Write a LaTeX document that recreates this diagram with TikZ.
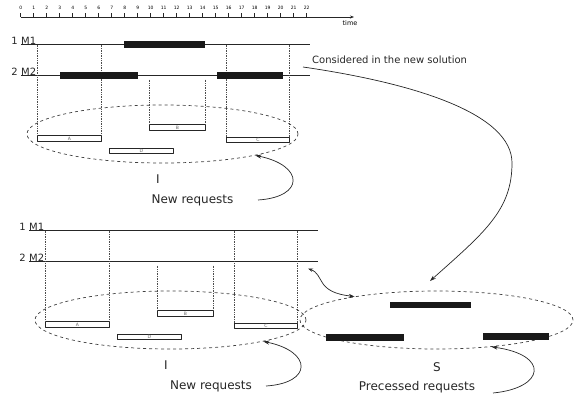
\documentclass[tikz,border=0pt]{standalone}
\usepackage{fontspec}
\setmainfont{DejaVu Sans}
\usetikzlibrary{positioning,arrows.meta,calc,shapes.geometric}

\tikzset{
  machine/.style={draw=black!85,line width=0.9pt},
  guide/.style={draw=black!70,densely dotted,line width=0.7pt},
  job/.style={fill=black!90,inner sep=0pt,minimum height=7pt},
  request/.style={draw=black!85,fill=white,line width=0.7pt,inner sep=0pt,
    minimum height=5.5pt,minimum width=64pt,font=\fontsize{4.5}{4.5}\selectfont,text=black!60},
  pool/.style={ellipse,draw=black!75,dashed,line width=0.7pt,inner sep=0pt},
  curved/.style={black!85,line width=0.7pt,-{Stealth[length=6pt,width=4pt]}},
  mlabel/.style={font=\fontsize{10}{10}\selectfont,inner sep=0pt,text=black!85},
  big/.style={font=\fontsize{12}{12}\selectfont,inner sep=0pt,text=black!85},
}

\begin{document}
\begin{tikzpicture}[x=1pt,y=-1pt,line join=round]
  \useasboundingbox (0,0) rectangle (576,397);

  % time axis
  \coordinate (t0) at (20.7,17);
  \coordinate (tend) at (354,17);
  \draw[black!85,line width=0.8pt,-{Stealth[length=4pt,width=3pt]}] (t0) -- (tend);
  \foreach \i in {0,...,22}{
    \draw[black!85,line width=0.5pt] (20.7+13*\i,17) -- (20.7+13*\i,12.5);
    \node[font=\fontsize{4.5}{4.5}\selectfont,inner sep=0pt] (tick\i) at (20.7+13*\i,8) {\i};
  }
  \node[font=\fontsize{6.5}{6.5}\selectfont,inner sep=0pt] (time) at (350,23) {time};

  % two machines with the new requests under them (second copy shifted)
  \foreach \sx/\sy/\k/\nx in {0/0/t/192.5,8/186/b/203}{
  \begin{scope}[shift={(\sx,\sy)}]
    \node[mlabel,anchor=south west] (m1\k) at (21,44.5) {M1};
    \node[mlabel,anchor=south east] (n1\k) at (18,44.5) {1};
    \node[mlabel,anchor=south west] (m2\k) at (21,75.7) {M2};
    \node[mlabel,anchor=south east] (n2\k) at (18,75.7) {2};
    \coordinate (m1e\k) at (310,44.5);
    \coordinate (m2e\k) at (310,75.7);
    \draw[machine] (m1\k.south west) -- (m1e\k);
    \draw[machine] (m2\k.south west) -- (m2e\k);
    % requests
    \node[request,anchor=north west] (A\k) at (37,135.3) {A};
    \node[request,anchor=north west,minimum width=56pt] (B\k) at (149,124.3) {B};
    \node[request,anchor=north west,minimum width=63pt] (C\k) at (226,136.7) {C};
    \node[request,anchor=north west] (D\k) at (109,147.7) {D};
    \draw[guide] (A\k.north west |- m1\k.south) -- (A\k.north west);
    \draw[guide] (A\k.north east |- m1\k.south) -- (A\k.north east);
    \draw[guide] (C\k.north west |- m1\k.south) -- (C\k.north west);
    \draw[guide] (C\k.north east |- m1\k.south) -- (C\k.north east);
    \draw[guide] ($(B\k.north west |- m2\k.south)+(0,4)$) -- (B\k.north west);
    \draw[guide] ($(B\k.north east |- m2\k.south)+(0,4)$) -- (B\k.north east);
    % the set I
    \node[pool,minimum width=271pt,minimum height=58pt] (req\k) at (162.5,134) {};
    \node[big] (I\k) at (158,179) {I};
    \node[big] (new\k) at (\nx,200) {New requests};
    \coordinate (tail\k) at (258,200);
    \draw[curved] (tail\k) .. controls +(47,-3) and +(49,10) .. (req\k.-13);
  \end{scope}
  }

  % jobs already on the machines
  \node[job,minimum width=81pt] (j1) at (164.5,44.5) {};
  \node[job,minimum width=78pt] (j2) at (99,75.7) {};
  \node[job,minimum width=66pt] (j3) at (250,75.7) {};

  % the set S
  \node[pool,minimum width=273pt,minimum height=58pt] (done) at (436.5,320) {};
  \node[job,minimum width=81pt,minimum height=6.5pt] (s1) at (430.5,305) {};
  \node[job,minimum width=78pt,minimum height=6.5pt] (s2) at (365,337.3) {};
  \node[job,minimum width=66pt,minimum height=6.5pt] (s3) at (516,336.3) {};
  \node[big] (S) at (437,367) {S};
  \node[big] (proc) at (417,387) {Precessed requests};
  \coordinate (ptail) at (493,393);
  \draw[curved] (ptail) .. controls (545,388) and (550,355) .. (done.-26);

  % kept jobs go to S
  \node[mlabel,anchor=west] (kept) at (312,60) {Considered in the new solution};
  \coordinate (from) at (303,67);
  \coordinate (into) at (430,281);
  \draw[curved] (from) .. controls (420,84) and (512,115) .. (512,163)
    .. controls (512,210) and (485,232) .. (into);
  \coordinate (m2tip) at (308,268.5);
  \draw[curved,{Stealth[length=5pt,width=3.5pt]}-{Stealth[length=6pt,width=4pt]}]
    (m2tip) .. controls (325,275) and (315,292) .. (done.164);
\end{tikzpicture}
\end{document}
